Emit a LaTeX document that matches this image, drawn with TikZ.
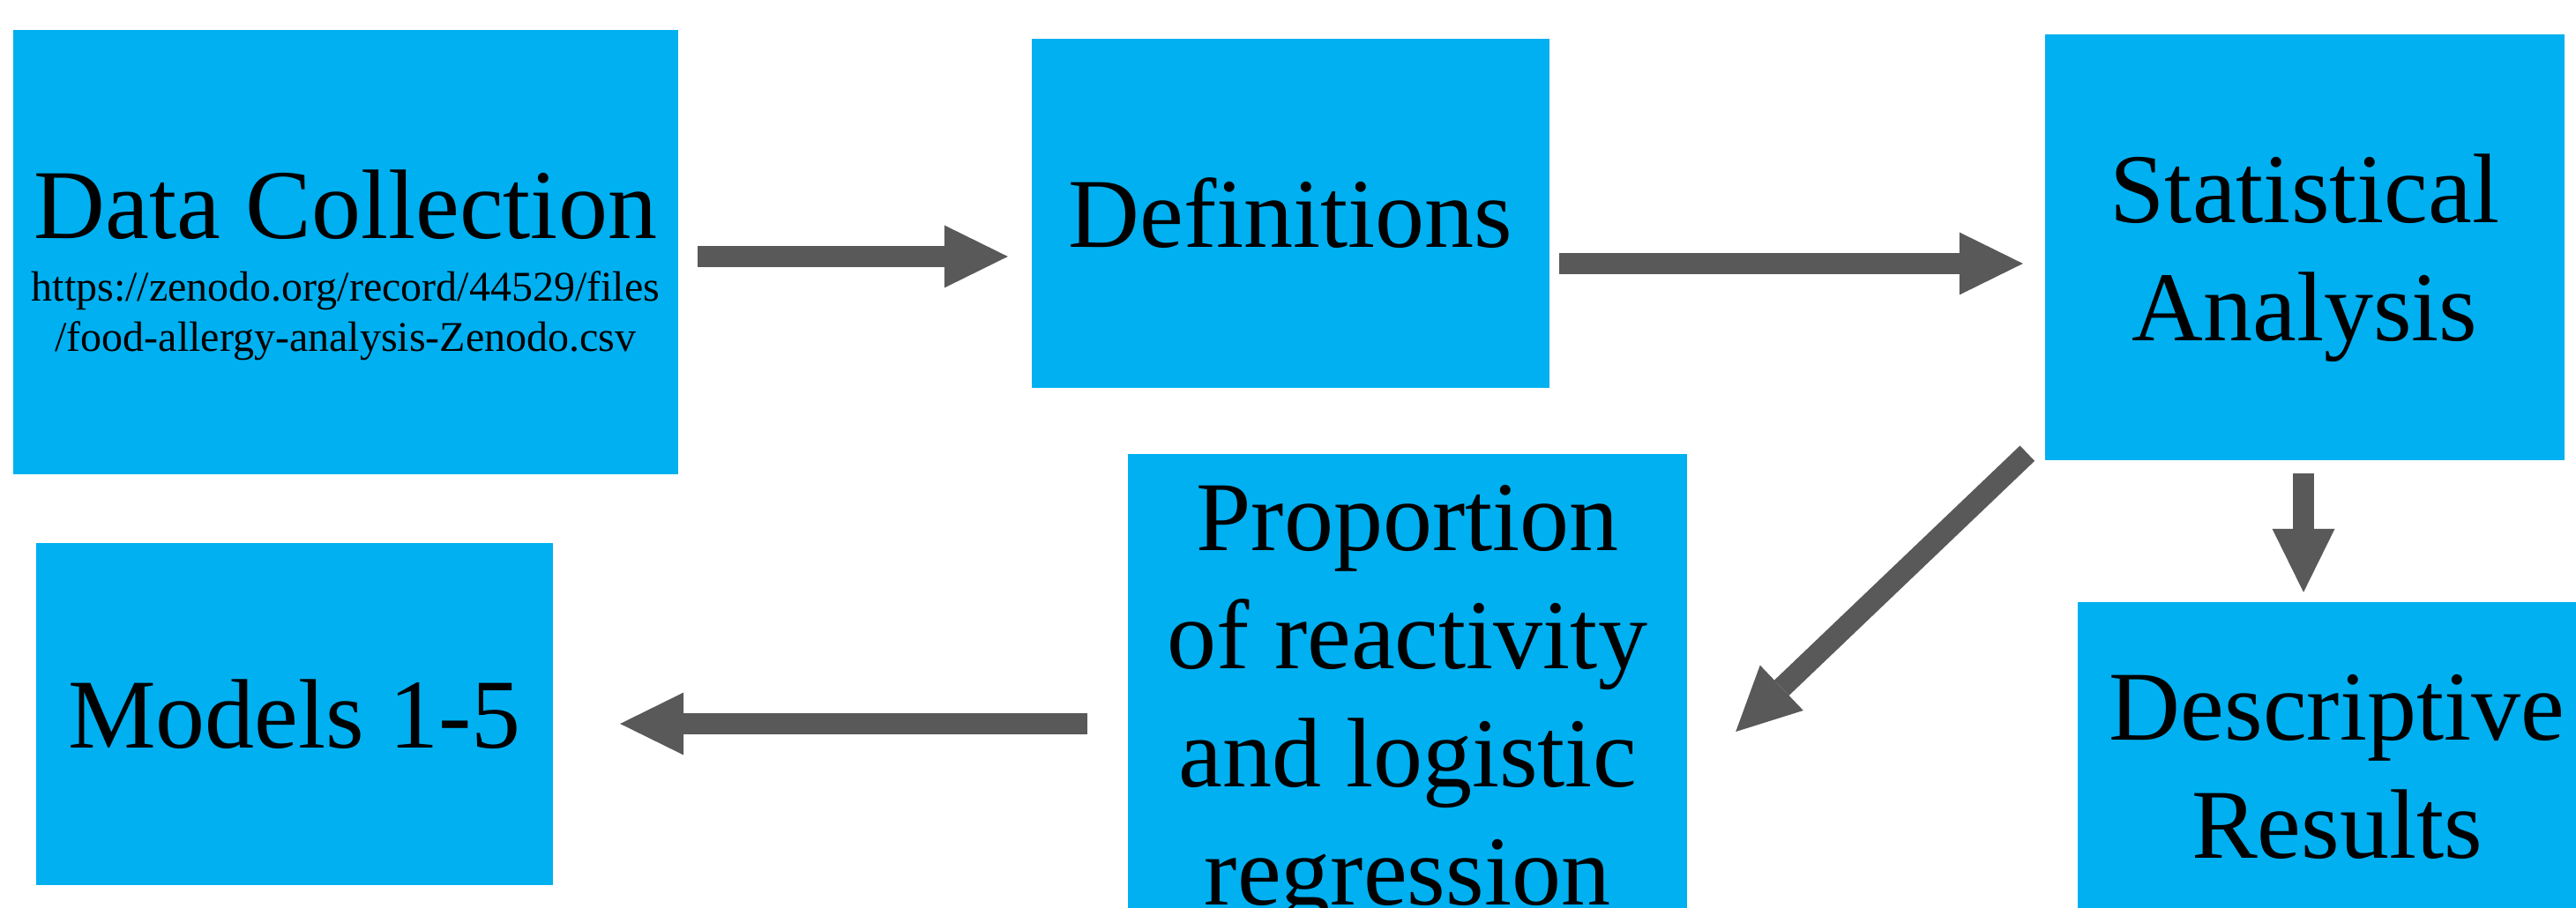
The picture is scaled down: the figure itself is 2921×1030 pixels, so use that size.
\documentclass[tikz,border=0pt]{standalone}
\usepackage{fontspec}
\setmainfont{Liberation Serif}
\usetikzlibrary{arrows.meta,calc}
\definecolor{boxblue}{HTML}{00B0F0}
\definecolor{arrgray}{HTML}{595959}
\begin{document}
\begin{tikzpicture}[x=1pt,y=-1pt,
  blk/.style={fill=boxblue,draw=none,inner sep=0pt,align=center,font=\fontsize{112}{134}\selectfont},
  arr/.style={draw=arrgray,line width=24pt,-{Triangle[width=71pt,length=72pt,line width=0pt]}}]
\clip (0,0) rectangle (2921,1030);
\fill[white] (0,0) rectangle (2921,1030);
\node[blk,font=\fontsize{48}{57}\selectfont,minimum width=754pt,minimum height=504pt,text height=234pt,text depth=10pt] (dc) at (392,286)
  {{\fontsize{112}{134}\selectfont Data Collection}\\[14pt]https://zenodo.org/record/44529/files\\/food-allergy-analysis-Zenodo.csv};
\node[blk,minimum width=587pt,minimum height=396pt] (def) at (1463.5,242) {Definitions};
\node[blk,minimum width=589pt,minimum height=483pt,text depth=0pt] (st) at (2613.5,280.5) {Statistical\\Analysis};
\node[blk,minimum width=586pt,minimum height=388pt] (mod) at (334,810) {Models 1-5};
\node[blk,minimum width=634pt,minimum height=570pt] (prop) at (1596,800) {Proportion\\of reactivity\\and logistic\\regression};
\node[blk,minimum width=588pt,minimum height=374pt] (desc) at (2650,870) {Descriptive\\Results};
\draw[arr] ($(dc.east)+(22,5)$) -- ($(def.west)+(-27,49)$);
\draw[arr] ($(def.east)+(11,57)$) -- ($(st.west)+(-25,18.5)$);
\draw[arr] ($(st.south)+(-1.5,15)$) -- ($(desc.north)+(-38,-11)$);
\draw[arr] ($(st.south west)+(-20,-8)$) -- ($(prop.east)+(55,30)$);
\draw[arr] ($(prop.west)+(-46,21)$) -- ($(mod.east)+(76,11)$);
\end{tikzpicture}
\end{document}
